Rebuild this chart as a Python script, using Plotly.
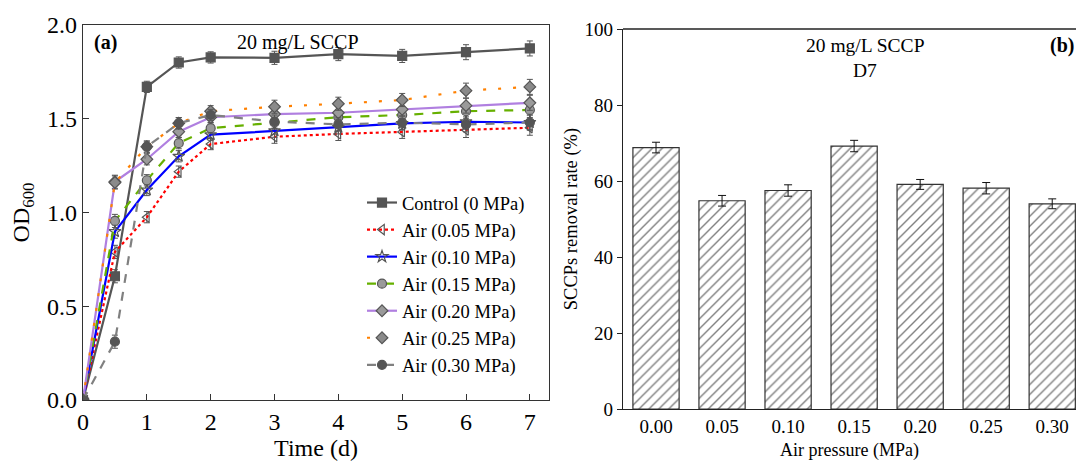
import plotly.graph_objects as go

# ---------------- data ----------------
time_d = [0, 0.5, 1, 1.5, 2, 3, 4, 5, 6, 7]
od_control = [0.00, 0.66, 1.67, 1.80, 1.827, 1.825, 1.845, 1.835, 1.855, 1.875]
od_005 = [0.00, 0.79, 0.975, 1.218, 1.365, 1.404, 1.419, 1.43, 1.44, 1.452]
od_010 = [0.00, 0.898, 1.12, 1.30, 1.415, 1.436, 1.454, 1.475, 1.484, 1.48]
od_015 = [0.00, 0.955, 1.172, 1.37, 1.45, 1.48, 1.508, 1.52, 1.54, 1.547]
od_020 = [0.00, 1.164, 1.284, 1.431, 1.508, 1.525, 1.532, 1.55, 1.57, 1.585]
od_025 = [0.00, 1.16, 1.351, 1.476, 1.54, 1.564, 1.58, 1.60, 1.65, 1.67]
od_030 = [0.00, 0.311, 1.351, 1.476, 1.52, 1.485, 1.47, 1.479, 1.47, 1.48]
od_err = [0.00, 0.035, 0.03, 0.03, 0.03, 0.035, 0.035, 0.035, 0.04, 0.04]

series_names = ["Control (0 MPa)", "Air (0.05 MPa)", "Air (0.10 MPa)", "Air (0.15 MPa)",
                "Air (0.20 MPa)", "Air (0.25 MPa)", "Air (0.30 MPa)"]

pressure_labels = ["0.00", "0.05", "0.10", "0.15", "0.20", "0.25", "0.30"]
removal_rate = [68.8, 54.8, 57.5, 69.2, 59.1, 58.1, 54.0]
removal_err = [1.4, 1.4, 1.5, 1.5, 1.3, 1.5, 1.3]

# ---------------- styles ----------------
MK = "#555555"
styles = [
    dict(color="#555555", dash="solid", symbol="square", fill=MK),
    dict(color="#ff0000", dash="dot", symbol="triangle-left-open", fill=MK),
    dict(color="#0000ff", dash="solid", symbol="star-open", fill=MK),
    dict(color="#66b000", dash="dash", symbol="circle", fill="#9a9a9a"),
    dict(color="#b07fe0", dash="solid", symbol="diamond", fill="#9a9a9a"),
    dict(color="#ff8000", dash="3px,12px", symbol="diamond", fill="#8a8a8a"),
    dict(color="#808080", dash="dash", symbol="circle", fill=MK),
]
series = [od_control, od_005, od_010, od_015, od_020, od_025, od_030]

FONT = "Liberation Serif, Times New Roman, serif"
fig = go.Figure()

for name, ys, st in zip(series_names, series, styles):
    fig.add_trace(go.Scatter(
        x=time_d, y=ys, name=name, mode="lines+markers",
        line=dict(color=st["color"], dash=st["dash"], width=2.2),
        marker=dict(symbol=st["symbol"], size=9, color=st["fill"],
                    line=dict(color=MK, width=1.2)),
        error_y=dict(type="data", array=od_err, color=MK, thickness=1, width=3),
        xaxis="x", yaxis="y",
    ))

fig.add_trace(go.Bar(
    x=pressure_labels, y=removal_rate, width=0.7, showlegend=False,
    marker=dict(color="white", line=dict(color="#333333", width=1.2),
                pattern=dict(shape="/", fgcolor="#000000", bgcolor="white",
                             size=7, solidity=0.2)),
    error_y=dict(type="data", array=removal_err, color="#111111", thickness=1, width=4),
    xaxis="x2", yaxis="y2",
))

# page has an 8px body margin: figure is offset by 8px and sized to fit the page
OFF = 8
W, H = 1068, 453
def px_x(p): return (p - OFF) / W
def px_y(p): return (H - (p - OFF)) / H

fig.update_layout(
    width=W, height=H,
    margin=dict(l=0, r=0, t=0, b=0, autoexpand=False),
    paper_bgcolor="white", plot_bgcolor="white",
    font=dict(family=FONT, color="black"),
    xaxis=dict(domain=[px_x(83), px_x(549)], range=[0, 7.3], automargin=False,
               tickvals=[0, 1, 2, 3, 4, 5, 6, 7], ticks="inside", ticklen=6,
               tickcolor="#333", showline=True, linecolor="#333", linewidth=1.3,
               mirror=True, showgrid=False, zeroline=False,
               tickfont=dict(size=24, family=FONT),
               title=dict(text="Time (d)", font=dict(size=24, family=FONT), standoff=11),
               anchor="y"),
    yaxis=dict(domain=[px_y(400), px_y(25)], range=[0, 2.0], automargin=False,
               tickvals=[0, 0.5, 1.0, 1.5, 2.0], tickformat=".1f",
               ticks="inside", ticklen=6, tickcolor="#333",
               showline=True, linecolor="#333", linewidth=1.3, mirror=True,
               showgrid=False, zeroline=False,
               tickfont=dict(size=24, family=FONT),
               title=dict(text="OD<sub>600</sub>", font=dict(size=24, family=FONT), standoff=10),
               anchor="x"),
    xaxis2=dict(domain=[px_x(623), 1.0], range=[-0.5, 6.36], type="category",
                automargin=False,
                ticks="", showline=True, linecolor="#222", linewidth=1.3,
                mirror=False, showgrid=False, zeroline=False,
                tickfont=dict(size=19, family=FONT),
                title=dict(text="Air pressure (MPa)", font=dict(size=18, family=FONT), standoff=11),
                anchor="y2"),
    yaxis2=dict(domain=[px_y(409), px_y(29)], range=[0, 100], automargin=False,
                tickvals=[0, 20, 40, 60, 80, 100], ticks="outside", ticklen=5,
                tickcolor="#222", showline=True, linecolor="#222", linewidth=1.3,
                showgrid=False, zeroline=False,
                tickfont=dict(size=19, family=FONT),
                title=dict(text="SCCPs removal rate (%)", font=dict(size=18.5, family=FONT), standoff=2),
                anchor="x2"),
    legend=dict(x=px_x(362), y=px_y(184), xanchor="left", yanchor="top",
                bgcolor="rgba(255,255,255,0)", borderwidth=0,
                font=dict(size=18.5, family=FONT), tracegroupgap=0),
    showlegend=True,
)

# top border of the right panel
fig.add_shape(type="line", xref="paper", yref="paper",
              x0=px_x(623), x1=1.0, y0=px_y(29), y1=px_y(29),
              line=dict(color="#222", width=1.3))

annos = [
    dict(x=px_x(92), y=px_y(42), text="<b>(a)</b>", size=20, xanchor="left"),
    dict(x=px_x(298), y=px_y(42), text="20 mg/L SCCP", size=20, xanchor="center"),
    dict(x=px_x(865), y=px_y(46), text="20 mg/L SCCP", size=19.5, xanchor="center"),
    dict(x=px_x(865), y=px_y(70), text="D7", size=19.5, xanchor="center"),
    dict(x=1.0, y=px_y(46), text="<b>(b)</b>", size=20, xanchor="right"),
]
for a in annos:
    fig.add_annotation(x=a["x"], y=a["y"], xref="paper", yref="paper", text=a["text"],
                       showarrow=False, xanchor=a["xanchor"], yanchor="middle",
                       font=dict(size=a["size"], family=FONT, color="black"))

fig.write_html("out.html")
